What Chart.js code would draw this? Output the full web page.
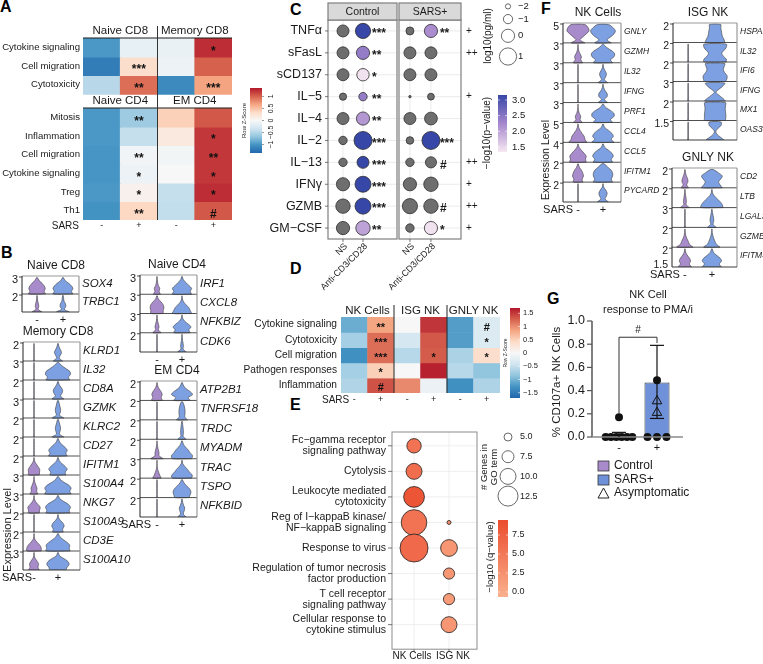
<!DOCTYPE html>
<html>
<head>
<meta charset="utf-8">
<title>T and NK cell responses</title>
<script src="https://cdn.jsdelivr.net/npm/chart.js@4.4.1/dist/chart.umd.min.js"></script>
<style>
  html, body { margin: 0; padding: 0; background: #fff; }
  #fig { position: relative; width: 763px; height: 664px; overflow: hidden; background: #fff; }
  #fig canvas { position: absolute; left: 0; top: 0; }
  .tag { position: absolute; font: bold 16px "Liberation Sans", Arial, sans-serif; line-height: 16px; color: #000; }
</style>
</head>
<body>
<div id="fig">
  <div class="tag" style="left:0px;top:-1px">A</div>
  <div class="tag" style="left:1px;top:245px">B</div>
  <div class="tag" style="left:290px;top:2px">C</div>
  <div class="tag" style="left:290px;top:261px">D</div>
  <div class="tag" style="left:290px;top:397px">E</div>
  <div class="tag" style="left:541px;top:1px">F</div>
  <div class="tag" style="left:547px;top:291px">G</div>
</div>
<script>
// ---------------- Panel A: pathway z-scores (T cell subsets) ----------------
const aColLabels = ['-', '+', '-', '+'];
const aTopGroups = ['Naive CD8', 'Memory CD8'];
const aBotGroups = ['Naive CD4', 'EM CD4'];
const aTopRows = ['Cytokine signaling', 'Cell migration', 'Cytotoxicity'];
const aTopZ = [
  [-0.98, -0.14, -0.12, 1.25],
  [-1.18, 0.3, -0.1, 1.01],
  [-0.47, 0.95, -1.08, 0.68]
];
const aTopSig = [['', '', '', '*'], ['', '***', '', ''], ['', '**', '', '***']];
const aBotRows = ['Mitosis', 'Inflammation', 'Cell migration', 'Cytokine signaling', 'Treg', 'Th1'];
const aBotZ = [
  [-0.98, -0.61, 0.4, 1.05],
  [-0.98, -0.4, 0.17, 1.2],
  [-1.0, -0.05, -0.04, 1.2],
  [-1.0, -0.1, 0.0, 1.2],
  [-0.98, 0.08, -0.4, 1.25],
  [-1.02, 0.35, -0.42, 1.05]
];
const aBotSig = [['', '**', '', ''], ['', '', '', '*'], ['', '**', '', '**'], ['', '*', '', '*'], ['', '*', '', '*'], ['', '**', '', '#']];
const aKeyTicks = [1, 0.5, 0, -0.5, -1];

// ---------------- Panel B: violin profiles (bottom -> top), - and + ----------------
const LN = [0.03, 0.02, 0.02, 0.02, 0.02, 0.02, 0.01];
const bNaive8Genes = ['SOX4', 'TRBC1'];
const bNaive8Ticks = ['3', '2'];
const bNaive8Neg = [[0.6, 0.5, 0.58, 0.5, 0.35, 0.15, 0.02], [0.35, 0.08, 0.12, 0.1, 0.05, 0.03, 0.01]];
const bNaive8Pos = [[0.7, 0.6, 0.7, 0.6, 0.4, 0.15, 0.02], [0.45, 0.1, 0.2, 0.18, 0.08, 0.05, 0.02]];

const bMem8Genes = ['KLRD1', 'IL32', 'CD8A', 'GZMK', 'KLRC2', 'CD27', 'IFITM1', 'S100A4', 'NKG7', 'S100A9', 'CD3E', 'S100A10'];
const bMem8Ticks = ['2', '3', '2', '3', '2', '2', '2', '3', '3', '2', '2', '3'];
const bMem8Neg = [LN, LN, LN, LN, LN, LN,
  [0.4, 0.42, 0.43, 0.3, 0.15, 0.04, 0.01],
  [0.3, 0.2, 0.23, 0.15, 0.07, 0.02, 0.01],
  [0.4, 0.42, 0.47, 0.3, 0.12, 0.03, 0.01],
  LN,
  [0.55, 0.55, 0.45, 0.25, 0.08, 0.02, 0.01],
  [0.4, 0.3, 0.35, 0.25, 0.1, 0.02, 0.01]];
const bMem8Pos = [
  [0.35, 0.1, 0.18, 0.27, 0.18, 0.08, 0.02],
  [0.9, 0.8, 0.95, 0.9, 0.6, 0.3, 0.05],
  [0.45, 0.2, 0.3, 0.36, 0.25, 0.1, 0.02],
  [0.45, 0.12, 0.18, 0.2, 0.15, 0.1, 0.03],
  [0.45, 0.12, 0.16, 0.2, 0.16, 0.1, 0.03],
  [0.7, 0.6, 0.7, 0.55, 0.3, 0.12, 0.02],
  [0.6, 0.55, 0.7, 0.55, 0.3, 0.1, 0.02],
  [1.0, 0.9, 1.0, 0.85, 0.5, 0.2, 0.03],
  [0.9, 0.85, 0.95, 0.8, 0.45, 0.15, 0.02],
  [0.4, 0.35, 0.47, 0.4, 0.2, 0.05, 0.01],
  [0.92, 0.85, 0.9, 0.7, 0.4, 0.15, 0.02],
  [0.6, 0.7, 0.85, 0.75, 0.45, 0.12, 0.02]];

const bNaive4Genes = ['IRF1', 'CXCL8', 'NFKBIZ', 'CDK6'];
const bNaive4Ticks = ['3', '3', '3', '2'];
const bNaive4Neg = [
  [0.25, 0.15, 0.2, 0.1, 0.05, 0.02, 0.01],
  [0.45, 0.45, 0.5, 0.45, 0.3, 0.1, 0.02],
  [0.3, 0.1, 0.15, 0.1, 0.05, 0.02, 0.01],
  LN];
const bNaive4Pos = [
  [0.7, 0.6, 0.7, 0.5, 0.3, 0.1, 0.02],
  [0.7, 0.6, 0.5, 0.3, 0.12, 0.03, 0.01],
  [0.6, 0.5, 0.65, 0.45, 0.2, 0.05, 0.01],
  [0.3, 0.08, 0.1, 0.08, 0.04, 0.02, 0.01]];

const bEm4Genes = ['ATP2B1', 'TNFRSF18', 'TRDC', 'MYADM', 'TRAC', 'TSPO', 'NFKBID'];
const bEm4Ticks = ['2', '2', '2', '2', '3', '2', '2'];
const bEm4Neg = [
  [0.4, 0.3, 0.38, 0.3, 0.15, 0.05, 0.01],
  LN, LN,
  [0.45, 0.15, 0.15, 0.1, 0.05, 0.02, 0.01],
  [0.3, 0.2, 0.12, 0.05, 0.02, 0.01, 0.01],
  LN, LN];
const bEm4Pos = [
  [0.6, 0.45, 0.77, 0.6, 0.3, 0.12, 0.02],
  [0.4, 0.2, 0.22, 0.22, 0.2, 0.15, 0.05],
  [0.3, 0.08, 0.1, 0.1, 0.08, 0.05, 0.02],
  [0.7, 0.77, 0.6, 0.45, 0.25, 0.1, 0.02],
  [0.7, 0.75, 0.55, 0.4, 0.2, 0.05, 0.01],
  [0.5, 0.6, 0.65, 0.55, 0.35, 0.15, 0.03],
  [0.3, 0.1, 0.15, 0.2, 0.12, 0.05, 0.02]];

// ---------------- Panel C: cytokine dot plot ----------------
const cCytokines = ['TNFα', 'sFasL', 'sCD137', 'IL−5', 'IL−4', 'IL−2', 'IL−13', 'IFNγ', 'GZMB', 'GM−CSF'];
const cConditions = ['NS', 'Anti-CD3/CD28'];
const cFacets = ['Control', 'SARS+'];
// log10(pg/ml)
const cCtrlNS = [-0.3, -0.3, -0.3, -1.5, -0.3, -1.2, -1.2, 0.0, 0.3, 0.0];
const cCtrlStim = [0.5, 0.0, -0.2, -1.2, 0.0, 1.2, -0.3, 0.7, 0.7, 0.3];
const cSarsNS = [-1.3, -0.3, -0.3, -2.8, -0.3, -1.4, -1.2, 0.0, 0.5, -1.2];
const cSarsStim = [0.0, -0.3, -0.3, -1.6, -0.1, 1.2, -0.5, 0.3, 0.3, 0.0];
// -log10(p-value), null = not significant (grey)
const cCtrlP = [3.2, 2.4, 1.4, 2.4, 2.1, 3.2, 3.2, 3.2, 3.2, 2.0];
const cSarsP = [2.2, null, null, null, null, 3.2, null, null, null, 1.4];
const cCtrlSig = ['***', '**', '*', '**', '**', '***', '***', '***', '***', '**'];
const cSarsSig = ['**', '', '', '', '', '***', '#', '', '#', '*'];
const cGroupDiff = ['+', '++', '', '+', '', '', '++', '+', '++', '+'];
const cSizeKey = [-2, -1, 0, 1];
const cColorKey = [3.0, 2.5, 2.0, 1.5];

// ---------------- Panel D: NK pathway z-scores ----------------
const dGroups = ['NK Cells', 'ISG NK', 'GNLY NK'];
const dColLabels = ['-', '+', '-', '+', '-', '+'];
const dRows = ['Cytokine signaling', 'Cytotoxicity', 'Cell migration', 'Pathogen responses', 'Inflammation'];
const dZ = [
  [-1.06, 0.85, 0.0, 1.53, -1.19, -0.3],
  [-0.72, 1.19, -0.38, 1.32, -1.19, -0.3],
  [-1.3, 1.19, -0.6, 1.3, -0.68, 0.38],
  [-0.72, 0.51, 0.0, 1.65, -0.6, -0.85],
  [-0.64, 1.36, 1.02, -0.13, -1.3, -0.66]
];
const dSig = [['', '**', '', '', '', '#'], ['', '***', '', '', '', '*'], ['', '***', '', '*', '', '*'], ['', '*', '', '', '', ''], ['', '#', '', '', '', '']];
const dKeyTicks = [1.5, 1, 0.5, 0, -0.5, -1, -1.5];

// ---------------- Panel E: GO enrichment ----------------
const eClusters = ['NK Cells', 'ISG NK'];
const eTerms = [
  ['Fc−gamma receptor', 'signaling pathway'],
  ['Cytolysis'],
  ['Leukocyte mediated', 'cytotoxicity'],
  ['Reg of I−kappaB kinase/', 'NF−kappaB signaling'],
  ['Response to virus'],
  ['Regulation of tumor necrosis', 'factor production'],
  ['T cell receptor', 'signaling pathway'],
  ['Cellular response to', 'cytokine stimulus']
];
const eNkGenes = [9, 10, 13, 16, 17.5, null, null, null];
const eNkQ = [5.5, 6.0, 8.5, 5.5, 6.5, null, null, null];
const eIsgGenes = [null, null, null, 2.5, 10.5, 7, 7, 10];
const eIsgQ = [null, null, null, 3.0, 2.0, 2.0, 1.5, 2.0];
const eSizeKey = [5.0, 7.5, 10.0, 12.5];
const eColorKey = [7.5, 5.0, 2.5, 0.0];

// ---------------- Panel F: NK violin profiles ----------------
const fNkGenes = ['GNLY', 'GZMH', 'IL32', 'IFNG', 'PRF1', 'CCL4', 'CCL5', 'IFITM1', 'PYCARD'];
const fNkTicks = ['5', '3', '3', '3', '3', '5', '4', '2', '2'];
const fNkNeg = [
  [0.5, 0.15, 0.35, 0.6, 0.8, 0.75, 0.5],
  [0.35, 0.2, 0.25, 0.15, 0.06, 0.02, 0.01],
  LN, LN,
  [0.3, 0.15, 0.2, 0.1, 0.04, 0.01, 0.01],
  [0.65, 0.5, 0.45, 0.3, 0.15, 0.05, 0.01],
  [0.6, 0.55, 0.6, 0.45, 0.25, 0.08, 0.01],
  [0.35, 0.3, 0.4, 0.35, 0.25, 0.1, 0.02],
  LN];
const fNkPos = [
  [0.6, 0.3, 0.55, 0.8, 0.9, 0.75, 0.4],
  [0.7, 0.55, 0.8, 0.85, 0.65, 0.3, 0.05],
  [0.35, 0.1, 0.2, 0.25, 0.15, 0.05, 0.01],
  [0.35, 0.1, 0.3, 0.3, 0.15, 0.05, 0.01],
  [0.7, 0.55, 0.8, 0.8, 0.55, 0.2, 0.03],
  [0.8, 0.6, 0.75, 0.65, 0.4, 0.12, 0.02],
  [0.7, 0.6, 0.75, 0.65, 0.4, 0.12, 0.02],
  [0.7, 0.6, 0.7, 0.7, 0.6, 0.35, 0.08],
  [0.4, 0.15, 0.25, 0.3, 0.2, 0.05, 0.01]];
const fIsgGenes = ['HSPA1B', 'IL32', 'IFI6', 'IFNG', 'MX1', 'OAS3'];
const fIsgTicks = ['2', '2', '2', '3', '2', '1.5'];
const fIsgNeg = [null, LN, LN, LN, LN, LN];
const fIsgPos = [
  [0.65, 0.6, 0.5, 0.45, 0.42, 0.38, 0.38],
  [0.75, 0.75, 0.55, 0.45, 0.6, 0.75, 0.75],
  [0.7, 0.8, 0.8, 0.65, 0.55, 0.6, 0.65],
  [0.7, 0.5, 0.25, 0.05, 0.25, 0.5, 0.65],
  [0.7, 0.72, 0.72, 0.7, 0.68, 0.7, 0.7],
  [0.6, 0.35, 0.12, 0.05, 0.2, 0.4, 0.4]];
const fGnlyGenes = ['CD2', 'LTB', 'LGALS1', 'GZMB', 'IFITM3'];
const fGnlyTicks = ['2', '2', '3', '2', '2'];
const fGnlyNeg = [
  [0.25, 0.12, 0.2, 0.18, 0.1, 0.04, 0.01],
  [0.3, 0.08, 0.1, 0.08, 0.05, 0.02, 0.01],
  LN,
  [0.55, 0.3, 0.22, 0.12, 0.05, 0.02, 0.01],
  [0.45, 0.3, 0.38, 0.3, 0.15, 0.05, 0.01]];
const fGnlyPos = [
  [0.7, 0.55, 0.45, 0.6, 0.7, 0.45, 0.1],
  [0.75, 0.7, 0.55, 0.35, 0.15, 0.04, 0.01],
  [0.3, 0.08, 0.12, 0.12, 0.08, 0.04, 0.01],
  [0.55, 0.3, 0.2, 0.12, 0.06, 0.02, 0.01],
  [0.65, 0.5, 0.65, 0.55, 0.3, 0.1, 0.02]];

// ---------------- Panel G: CD107a bar chart ----------------
const gGroups = ['-', '+'];
const gMeans = [0.02, 0.47];
const gErrLow = [0.0, 0.16];
const gErrHigh = [0.04, 0.79];
const gCtrlPoints = [0, 0, 0, 0, 0, 0, 0.17];
const gSarsPoints = [0, 0, 0, 0.49];
const gAsymPoints = [0.31, 0.21];
const gYTicks = [0, 0.2, 0.4, 0.6, 0.8, 1.0];
const gLegend = ['Control', 'SARS+', 'Asymptomatic'];

// ================= helpers =================
const FW = 763, FH = 664;
const FONT = '"Liberation Sans", Arial, sans-serif';
const PURPLE = '#A88BCB';
const BLUE = '#7DA0E2';
const G_BLUE = '#6E91D9';
const RDBU = ['#2166AC', '#4393C3', '#92C5DE', '#D1E5F0', '#F7F7F7', '#FDDBC7', '#F4A582', '#D6604D', '#B2182B'];
const PVAL_RAMP = ['#F6E8F1', '#A687CD', '#3747A8'];
const QVAL_RAMP = ['#FAB08C', '#EB4C2E'];
const A_ZMAX = 1.35, A_BOT_START = 3.75, A_YMAX = 9.75;
const D_ZMAX = 1.7;
const P_MIN = 1.34, P_MAX = 3.16;
const Q_MIN = -0.66, Q_MAX = 9.47;
const V_LEVELS = [0, 0.15, 0.3, 0.45, 0.6, 0.75, 0.92];
const V_HALF = 0.55;

Chart.defaults.font.family = FONT;

function hexToRgb(h) {
  const n = parseInt(h.slice(1), 16);
  return [n >> 16, (n >> 8) & 255, n & 255];
}
function ramp(stops, t) {
  t = Math.max(0, Math.min(1, t));
  const p = t * (stops.length - 1);
  const i = Math.min(Math.floor(p), stops.length - 2), f = p - i;
  const a = hexToRgb(stops[i]), b = hexToRgb(stops[i + 1]);
  return 'rgb(' + a.map((v, k) => Math.round(v + (b[k] - v) * f)).join(',') + ')';
}
function fmt(v) { return (v < 0 ? '−' : '') + Math.abs(v); }

function text(ctx, s, x, y, o) {
  o = o || {};
  ctx.save();
  ctx.font = (o.italic ? 'italic ' : '') + (o.bold ? 'bold ' : '') + (o.size || 10) + 'px ' + FONT;
  ctx.fillStyle = o.color || '#1a1a1a';
  ctx.textAlign = o.align || 'left';
  ctx.textBaseline = o.base || 'middle';
  ctx.translate(x, y);
  if (o.rot) ctx.rotate(o.rot);
  ctx.fillText(s, 0, 0);
  ctx.restore();
}
function line(ctx, x1, y1, x2, y2, color, w) {
  ctx.save();
  ctx.strokeStyle = color || '#000';
  ctx.lineWidth = w || 1;
  ctx.beginPath();
  ctx.moveTo(x1, y1);
  ctx.lineTo(x2, y2);
  ctx.stroke();
  ctx.restore();
}
function frame(ctx, ca, color, w) {
  ctx.save();
  ctx.strokeStyle = color;
  ctx.lineWidth = w;
  ctx.strokeRect(ca.left, ca.top, ca.right - ca.left, ca.bottom - ca.top);
  ctx.restore();
}
function circle(ctx, x, y, r, fill, stroke) {
  ctx.save();
  ctx.beginPath();
  ctx.arc(x, y, r, 0, Math.PI * 2);
  ctx.fillStyle = fill;
  ctx.fill();
  ctx.strokeStyle = stroke;
  ctx.lineWidth = 0.8;
  ctx.stroke();
  ctx.restore();
}
function colorbar(ctx, x0, y0, x1, y1, stops) {
  const g = ctx.createLinearGradient(0, y1, 0, y0);
  stops.forEach((c, i) => g.addColorStop(i / (stops.length - 1), c));
  ctx.save();
  ctx.fillStyle = g;
  ctx.fillRect(x0, y0, x1 - x0, y1 - y0);
  ctx.restore();
}

function newCanvas() {
  const c = document.createElement('canvas');
  c.width = FW;
  c.height = FH;
  c.style.width = FW + 'px';
  c.style.height = FH + 'px';
  document.getElementById('fig').appendChild(c);
  return c;
}

// every chart gets a full-figure canvas; the padding puts its plot area on the given box
function chartAt(box, config) {
  const [x0, y0, x1, y1] = box;
  const opts = config.options || {};
  opts.responsive = false;
  opts.animation = false;
  opts.devicePixelRatio = 1;
  opts.events = [];
  opts.layout = { padding: { left: x0, top: y0, right: FW - x1, bottom: FH - y1 } };
  opts.plugins = Object.assign({ legend: { display: false }, tooltip: { enabled: false } }, opts.plugins || {});
  config.options = opts;
  return new Chart(newCanvas(), config);
}

// ================= heatmaps (A, D) =================
function heatmapChart(box, nCols, blocks, zMax, yMax, decorate) {
  const datasets = [];
  blocks.forEach(b => b.z.forEach((vals, i) => {
    const y0 = b.start + i;
    datasets.push({
      data: vals.map(() => [y0, y0 + 1.04]),
      backgroundColor: vals.map(v => ramp(RDBU, (v + zMax) / (2 * zMax))),
      borderWidth: 0,
      grouped: false,
      barPercentage: 1.02,
      categoryPercentage: 1
    });
  }));
  return chartAt(box, {
    type: 'bar',
    data: { labels: Array.from({ length: nCols }, (_, j) => 'c' + j), datasets },
    options: {
      scales: {
        x: { display: false },
        y: { type: 'linear', min: 0, max: yMax, reverse: true, display: false }
      }
    },
    plugins: [{ id: 'heatDecor', afterDatasetsDraw: decorate }]
  });
}

heatmapChart([83, 38, 232, 220], 4,
  [{ z: aTopZ, start: 0 }, { z: aBotZ, start: A_BOT_START }], A_ZMAX, A_YMAX,
  function (chart) {
    const { ctx, chartArea: ca, scales: { x, y } } = chart;
    const cx = j => x.getPixelForValue(j);
    [[aTopRows, aTopSig, aTopGroups, 0], [aBotRows, aBotSig, aBotGroups, A_BOT_START]].forEach(([rows, sig, groups, start]) => {
      const top = y.getPixelForValue(start);
      groups.forEach((g, k) => text(ctx, g, (cx(2 * k) + cx(2 * k + 1)) / 2, top - 7, { size: 11.5, align: 'center' }));
      line(ctx, ca.left, top, ca.right, top, '#1e1e1e', 1.2);
      rows.forEach((r, i) => {
        const cy = y.getPixelForValue(start + i + 0.5);
        text(ctx, r, ca.left - 3, cy, { size: 9.6, align: 'right' });
        sig[i].forEach((s, j) => { if (s) text(ctx, s, cx(j), cy + 4, { size: 12, bold: true, align: 'center', color: '#111' }); });
      });
    });
    const midX = (cx(1) + cx(2)) / 2;
    line(ctx, midX, ca.top - 12, midX, ca.bottom, '#333', 1);
    text(ctx, 'SARS', ca.left - 4, ca.bottom + 6, { size: 10, align: 'right' });
    aColLabels.forEach((l, j) => text(ctx, l, cx(j), ca.bottom + 6, { size: 9, align: 'center' }));
    // colour key
    const k0 = 88, k1 = 153;
    colorbar(ctx, 250, k0, 262, k1, RDBU);
    aKeyTicks.forEach(v => {
      const yy = k0 + (A_ZMAX - v) / (2 * A_ZMAX) * (k1 - k0);
      line(ctx, 262, yy, 264, yy, '#555', 0.6);
      text(ctx, fmt(v), 271, yy, { size: 7, align: 'center', rot: -Math.PI / 2 });
    });
    text(ctx, 'Row Z-Score', 244, (k0 + k1) / 2, { size: 6, align: 'center', rot: -Math.PI / 2 });
  });

heatmapChart([341, 317, 500, 393], 6, [{ z: dZ, start: 0 }], D_ZMAX, dRows.length,
  function (chart) {
    const { ctx, chartArea: ca, scales: { x, y } } = chart;
    const cx = j => x.getPixelForValue(j);
    dGroups.forEach((g, k) => text(ctx, g, (cx(2 * k) + cx(2 * k + 1)) / 2, ca.top - 6, { size: 11.5, align: 'center' }));
    [1, 2].forEach(k => {
      const xx = (cx(2 * k - 1) + cx(2 * k)) / 2;
      line(ctx, xx, ca.top - 12, xx, ca.bottom, '#222', 1);
    });
    dRows.forEach((r, i) => {
      const cy = y.getPixelForValue(i + 0.5);
      text(ctx, r, ca.left - 4, cy, { size: 10.2, align: 'right' });
      dSig[i].forEach((s, j) => { if (s) text(ctx, s, cx(j), cy + 3, { size: 11, bold: true, align: 'center', color: '#111' }); });
    });
    text(ctx, 'SARS', cx(0) - 5, ca.bottom + 7, { size: 10, align: 'right' });
    dColLabels.forEach((l, j) => text(ctx, l, cx(j), ca.bottom + 7, { size: 9, align: 'center' }));
    const k0 = 308, k1 = 398;
    colorbar(ctx, 510, k0, 520, k1, RDBU);
    dKeyTicks.forEach(v => {
      const yy = k0 + (D_ZMAX - v) / (2 * D_ZMAX) * (k1 - k0);
      line(ctx, 518, yy, 520, yy, '#fff', 0.6);
      text(ctx, fmt(v), 523, yy, { size: 7.5 });
    });
    text(ctx, 'Row Z-Score', 506, (k0 + k1) / 2, { size: 5, align: 'center', rot: -Math.PI / 2 });
  });

// ================= violin stacks (B, F) =================
function violinOutline(profile, center, base) {
  const right = profile.map((w, k) => ({ x: center + w * V_HALF, y: base + V_LEVELS[k] }));
  const left = profile.map((w, k) => ({ x: center - w * V_HALF, y: base + V_LEVELS[k] })).reverse();
  return right.concat(left, [right[0]]);
}

function violinChart(o) {
  const n = o.genes.length;
  const datasets = [];
  o.genes.forEach((g, i) => {
    const base = n - 1 - i;
    [[o.neg[i], 1, PURPLE], [o.pos[i], 2, BLUE]].forEach(([prof, cx, col]) => {
      if (!prof) return;
      datasets.push({
        data: violinOutline(prof, cx, base),
        showLine: true, fill: 'shape', tension: 0.3,
        backgroundColor: col, borderColor: '#3d3d3d', borderWidth: 0.6,
        pointRadius: 0
      });
    });
  });
  return chartAt(o.box, {
    type: 'scatter',
    data: { datasets },
    options: {
      scales: {
        x: { type: 'linear', min: o.xMin, max: o.xMax, offset: false, display: false },
        y: { type: 'linear', min: 0, max: n, offset: false, display: false }
      }
    },
    plugins: [{
      id: 'violinDecor',
      afterDatasetsDraw(chart) {
        const { ctx, chartArea: ca, scales: { x, y } } = chart;
        for (let i = 1; i < n; i++) {
          const yy = y.getPixelForValue(i);
          line(ctx, ca.left, yy, ca.right, yy, '#3c3c3c', 0.9);
        }
        line(ctx, ca.left, ca.top, ca.right, ca.top, '#9a9a9a', 1.2);
        line(ctx, ca.right, ca.top, ca.right, ca.bottom, '#9a9a9a', 1.2);
        line(ctx, ca.left, ca.bottom, ca.right, ca.bottom, '#3c3c3c', 1);
        line(ctx, ca.left, ca.top, ca.left, ca.bottom, '#222', 1);
        o.genes.forEach((g, i) => {
          const top = y.getPixelForValue(n - i), mid = y.getPixelForValue(n - i - 0.5);
          text(ctx, g, ca.right + 3, mid - 1, { italic: true, size: o.geneSize });
          text(ctx, o.ticks[i], ca.left - 4, top + 4, { size: o.tickSize || 11, align: 'right' });
          line(ctx, ca.left - 3, top + 1, ca.left, top + 1, '#222', 0.8);
        });
        if (o.bottomTick) text(ctx, o.bottomTick, ca.left - 4, ca.bottom - 2, { size: o.tickSize || 11, align: 'right' });
        if (o.title) text(ctx, o.title, o.titleX, ca.top - 10, { size: 12, align: 'center' });
        if (o.xLabels) {
          const ly = ca.bottom + 8;
          text(ctx, '-', x.getPixelForValue(1), ly, { size: 11, align: 'center' });
          text(ctx, '+', x.getPixelForValue(2), ly, { size: 11, align: 'center' });
          if (o.sars !== undefined) text(ctx, 'SARS', x.getPixelForValue(1) - o.sars, ly, { size: 11, align: 'right' });
        }
        if (o.ylab) text(ctx, 'Expression Level', o.ylab[0], o.ylab[1], { size: o.ylabSize || 11, align: 'center', rot: -Math.PI / 2 });
      }
    }]
  });
}

violinChart({ box: [22, 276, 79, 312], xMin: 0.42, xMax: 2.62, genes: bNaive8Genes, ticks: bNaive8Ticks,
  neg: bNaive8Neg, pos: bNaive8Pos, title: 'Naive CD8', titleX: 56, xLabels: true, geneSize: 11.5 });
violinChart({ box: [23, 342, 80, 570], xMin: 0.54, xMax: 2.92, genes: bMem8Genes, ticks: bMem8Ticks,
  neg: bMem8Neg, pos: bMem8Pos, title: 'Memory CD8', titleX: 58, xLabels: true, sars: 2, geneSize: 11.5, ylab: [8, 530] });
violinChart({ box: [140, 275, 197, 352], xMin: 0.32, xMax: 2.6, genes: bNaive4Genes, ticks: bNaive4Ticks,
  neg: bNaive4Neg, pos: bNaive4Pos, title: 'Naive CD4', titleX: 177, xLabels: true, geneSize: 11.5 });
violinChart({ box: [140, 381, 197, 517], xMin: 0.32, xMax: 2.6, genes: bEm4Genes, ticks: bEm4Ticks,
  neg: bEm4Neg, pos: bEm4Pos, title: 'EM CD4', titleX: 177, xLabels: true, sars: 6, geneSize: 11.5 });

violinChart({ box: [563, 23, 621, 202], xMin: 0.4, xMax: 2.72, genes: fNkGenes, ticks: fNkTicks,
  neg: fNkNeg, pos: fNkPos, title: 'NK Cells', titleX: 598, xLabels: true, sars: 5, geneSize: 8.5,
  tickSize: 10.5, ylab: [546, 160], ylabSize: 10.5 });
violinChart({ box: [673, 23, 737, 140], xMin: 0.44, xMax: 2.81, genes: fIsgGenes, ticks: fIsgTicks,
  neg: fIsgNeg, pos: fIsgPos, title: 'ISG NK', titleX: 708, geneSize: 8.5, tickSize: 10.5 });
violinChart({ box: [672, 168, 737, 267], xMin: 0.52, xMax: 2.93, genes: fGnlyGenes, ticks: fGnlyTicks,
  neg: fGnlyNeg, pos: fGnlyPos, title: 'GNLY NK', titleX: 708, xLabels: true, sars: 5, geneSize: 8.5,
  tickSize: 10.5, bottomTick: '1.5' });

// ================= C: dot plot facets =================
function cRadius(v) { return Math.max(1.2, 6.6 + 2 * v); }
function cColor(p) { return ramp(PVAL_RAMP, (p - P_MIN) / (P_MAX - P_MIN)); }

function cFacet(box, xMin, xMax, facet, ns, stim, pvals, sig, first) {
  const gray = '#6E6E6E';
  return chartAt(box, {
    type: 'bubble',
    data: {
      datasets: [
        { data: ns.map((v, i) => ({ x: 1, y: i, r: cRadius(v) })), backgroundColor: gray, borderColor: '#2e2e2e', borderWidth: 0.8 },
        { data: stim.map((v, i) => ({ x: 2, y: i, r: cRadius(v) })), backgroundColor: pvals.map(p => p == null ? gray : cColor(p)), borderColor: '#2e2e2e', borderWidth: 0.8 }
      ]
    },
    options: {
      scales: {
        x: { type: 'linear', min: xMin, max: xMax, offset: false, display: false },
        y: { type: 'linear', min: -0.5, max: cCytokines.length - 0.5, reverse: true, offset: false, display: false }
      }
    },
    plugins: [{
      id: 'cDecor',
      beforeDatasetsDraw(chart) {
        const { ctx, chartArea: ca, scales: { x, y } } = chart;
        cCytokines.forEach((c, i) => { const yy = y.getPixelForValue(i); line(ctx, ca.left, yy, ca.right, yy, '#E6E6E6', 0.8); });
        [1, 2].forEach(v => { const xx = x.getPixelForValue(v); line(ctx, xx, ca.top, xx, ca.bottom, '#E6E6E6', 0.8); });
      },
      afterDatasetsDraw(chart) {
        const { ctx, chartArea: ca, scales: { x, y } } = chart;
        frame(ctx, ca, '#7F7F7F', 1.2);
        ctx.save();
        ctx.fillStyle = '#D9D9D9';
        ctx.fillRect(ca.left, ca.top - 17, ca.right - ca.left, 17);
        ctx.strokeStyle = '#7F7F7F';
        ctx.lineWidth = 1.2;
        ctx.strokeRect(ca.left, ca.top - 17, ca.right - ca.left, 17);
        ctx.restore();
        text(ctx, facet, (ca.left + ca.right) / 2, ca.top - 8, { size: 10.5, align: 'center' });
        sig.forEach((s, i) => { if (s) text(ctx, s, x.getPixelForValue(2) + 9, y.getPixelForValue(i) + 3, { size: 12, bold: true }); });
        cConditions.forEach((c, k) => {
          const xx = x.getPixelForValue(k + 1);
          line(ctx, xx, ca.bottom, xx, ca.bottom + 3, '#555', 0.8);
          text(ctx, c, xx + 3, ca.bottom + 6, { size: 9, align: 'right', rot: -Math.PI / 4 });
        });
        if (first) {
          cCytokines.forEach((c, i) => {
            const yy = y.getPixelForValue(i);
            line(ctx, ca.left - 3, yy, ca.left, yy, '#555', 0.8);
            text(ctx, c, ca.left - 6, yy, { size: 12.5, align: 'right' });
          });
        } else {
          cGroupDiff.forEach((s, i) => { if (s) text(ctx, s, ca.right + 5, y.getPixelForValue(i), { size: 10 }); });
          // size key
          text(ctx, 'log10(pg/ml)', 488, 36, { size: 10, align: 'center', rot: -Math.PI / 2 });
          let ky = 6.4, prevR = 0;
          cSizeKey.forEach((v, k) => {
            const r = cRadius(v);
            ky = k === 0 ? ky : ky + prevR + r + 5.5;
            circle(ctx, 508, ky, r, '#fff', '#444');
            text(ctx, fmt(v), 518, ky, { size: 9.5 });
            prevR = r;
          });
          // colour key
          const k0 = 95, k1 = 152;
          colorbar(ctx, 498, k0, 507, k1, PVAL_RAMP);
          cColorKey.forEach(v => {
            const yy = k1 - (v - P_MIN) / (P_MAX - P_MIN) * (k1 - k0);
            line(ctx, 498, yy, 500, yy, '#fff', 0.6);
            line(ctx, 505, yy, 507, yy, '#fff', 0.6);
            text(ctx, v.toFixed(1), 512, yy, { size: 9.5 });
          });
          text(ctx, '−log10(p−value)', 487, 133, { size: 10, align: 'center', rot: -Math.PI / 2 });
        }
      }
    }]
  });
}

cFacet([328, 20, 397, 239], 0.25, 3.7, cFacets[0], cCtrlNS, cCtrlStim, cCtrlP, cCtrlSig, true);
cFacet([399, 20, 461, 239], 0.48, 3.43, cFacets[1], cSarsNS, cSarsStim, cSarsP, cSarsSig, false);

// ================= E: GO term bubbles =================
function eRadius(n) { return 0.8 * n; }
function eColor(q) { return ramp(QVAL_RAMP, (q - Q_MIN) / (Q_MAX - Q_MIN)); }
function ePoints(genes, qs, col) {
  const data = [], colors = [];
  genes.forEach((g, i) => {
    if (g == null) return;
    data.push({ x: col, y: i + 1, r: eRadius(g) });
    colors.push(eColor(qs[i]));
  });
  return { data, backgroundColor: colors, borderColor: '#222', borderWidth: 0.8 };
}

chartAt([392, 432, 477, 653], {
  type: 'bubble',
  data: { datasets: [ePoints(eNkGenes, eNkQ, 1), ePoints(eIsgGenes, eIsgQ, 2)] },
  options: {
    scales: {
      x: { type: 'linear', min: 0.37, max: 2.8, offset: false, display: false },
      y: { type: 'linear', min: 0.46, max: 8.96, reverse: true, offset: false, display: false }
    }
  },
  plugins: [{
    id: 'eDecor',
    beforeDatasetsDraw(chart) {
      const { ctx, chartArea: ca, scales: { x, y } } = chart;
      eTerms.forEach((t, i) => { const yy = y.getPixelForValue(i + 1); line(ctx, ca.left, yy, ca.right, yy, '#EBEBEB', 0.8); });
      eClusters.forEach((c, j) => { const xx = x.getPixelForValue(j + 1); line(ctx, xx, ca.top, xx, ca.bottom, '#EBEBEB', 0.8); });
    },
    afterDatasetsDraw(chart) {
      const { ctx, chartArea: ca, scales: { x, y } } = chart;
      frame(ctx, ca, '#8C8C8C', 1);
      eTerms.forEach((lines, i) => {
        const cy = y.getPixelForValue(i + 1);
        line(ctx, ca.left - 4, cy, ca.left, cy, '#555', 0.8);
        const off = (lines.length - 1) * 5.5;
        lines.forEach((s, k) => text(ctx, s, ca.left - 6, cy - off + k * 11, { size: 10.5, align: 'right' }));
      });
      eClusters.forEach((c, j) => {
        const xx = x.getPixelForValue(j + 1);
        line(ctx, xx, ca.bottom, xx, ca.bottom + 3, '#555', 0.8);
        text(ctx, c, xx + j * 6 - 2, ca.bottom + 7, { size: 10, align: 'center' });
      });
      // size key
      text(ctx, '# Genes in', 484, 467, { size: 9.5, align: 'center', rot: -Math.PI / 2 });
      text(ctx, 'GO term', 494, 467, { size: 9.5, align: 'center', rot: -Math.PI / 2 });
      eSizeKey.forEach((v, k) => {
        const yy = 437 + k * 19.7;
        circle(ctx, 508, yy, eRadius(v), '#fff', '#444');
        text(ctx, v.toFixed(1), 520, yy, { size: 9 });
      });
      // colour key
      const k0 = 520, k1 = 597;
      colorbar(ctx, 498, k0, 508, k1, QVAL_RAMP);
      eColorKey.forEach(v => {
        const yy = k1 - (v - Q_MIN) / (Q_MAX - Q_MIN) * (k1 - k0);
        line(ctx, 498, yy, 500, yy, '#fff', 0.6);
        line(ctx, 506, yy, 508, yy, '#fff', 0.6);
        text(ctx, v.toFixed(1), 512, yy, { size: 9 });
      });
      text(ctx, '−log10 (q−value)', 490, 557, { size: 9.5, align: 'center', rot: -Math.PI / 2 });
    }
  }]
});

// ================= G: bar + dots =================
function swarm(vals, group) {
  const counts = {}, seen = {};
  vals.forEach(v => { counts[v] = (counts[v] || 0) + 1; });
  return vals.map(v => {
    const m = counts[v];
    const k = seen[v] = (seen[v] === undefined ? 0 : seen[v] + 1);
    const step = m > 1 ? Math.min(0.25, 0.7 / (m - 1)) : 0;
    return { x: group + (k - (m - 1) / 2) * step, y: v };
  });
}

chartAt([600, 321, 676, 437], {
  type: 'scatter',
  data: {
    datasets: [
      { data: swarm(gCtrlPoints, 0).concat(swarm(gSarsPoints, 1)),
        pointRadius: 4, backgroundColor: '#111', borderColor: '#111', borderWidth: 0, clip: false, order: 1 },
      { data: gAsymPoints.map(v => ({ x: 1, y: v })),
        pointStyle: 'triangle', pointRadius: 5.5, backgroundColor: 'rgba(0,0,0,0)', borderColor: '#111', borderWidth: 1, clip: false, order: 0 },
      { type: 'bar', data: gMeans.map((m, j) => ({ x: j, y: m })), backgroundColor: [PURPLE, G_BLUE], borderColor: '#333', borderWidth: 1,
        grouped: false, barPercentage: 0.66, categoryPercentage: 1, order: 2 }
    ]
  },
  options: {
    scales: {
      x: { type: 'linear', min: -0.5, max: 1.5, offset: false, display: false },
      y: { type: 'linear', min: 0, max: 1, offset: false, display: false }
    }
  },
  plugins: [{
    id: 'gDecor',
    afterDatasetsDraw(chart) {
      const { ctx, chartArea: ca, scales: { x, y } } = chart;
      const ax = ca.left - 8;
      const y0 = y.getPixelForValue(0);
      line(ctx, ax, y.getPixelForValue(1), ax, y0, '#555', 1.5);
      line(ctx, ax, y0, ca.right + 7, y0, '#8a8a8a', 1.5);
      gYTicks.forEach(v => {
        const yy = y.getPixelForValue(v);
        line(ctx, ax - 5, yy, ax, yy, '#555', 1.2);
        text(ctx, v.toFixed(1), ax - 7, yy, { size: 12.5, align: 'right' });
      });
      gGroups.forEach((g, j) => text(ctx, g, x.getPixelForValue(j), ca.bottom + 11, { size: 11, align: 'center' }));
      gMeans.forEach((m, j) => {
        const xx = x.getPixelForValue(j);
        const lo = y.getPixelForValue(gErrLow[j]), hi = y.getPixelForValue(gErrHigh[j]);
        line(ctx, xx, lo, xx, hi, '#111', 1.2);
        line(ctx, xx - 7, hi, xx + 7, hi, '#111', 1.2);
        if (gErrLow[j] > 0) line(ctx, xx - 7, lo, xx + 7, lo, '#111', 1.2);
      });
      // significance bracket
      const bx0 = x.getPixelForValue(0), bx1 = x.getPixelForValue(1), by = y.getPixelForValue(0.86);
      line(ctx, bx0, y.getPixelForValue(0.2), bx0, by, '#333', 1);
      line(ctx, bx0, by, bx1, by, '#333', 1);
      line(ctx, bx1, by, bx1, y.getPixelForValue(0.81), '#333', 1);
      text(ctx, '#', (bx0 + bx1) / 2, by - 7, { size: 10, align: 'center' });
      // titles
      text(ctx, 'NK Cell', 648, 295, { size: 11, align: 'center' });
      text(ctx, 'response to PMA/i', 648, 310, { size: 11, align: 'center' });
      text(ctx, '% CD107a+ NK Cells', 557, 382, { size: 11.5, align: 'center', rot: -Math.PI / 2 });
      // legend
      [PURPLE, G_BLUE].forEach((c, k) => {
        const yy = 466 + k * 14;
        ctx.save();
        ctx.fillStyle = c;
        ctx.fillRect(598, yy - 5, 11, 10);
        ctx.strokeStyle = '#333';
        ctx.lineWidth = 0.8;
        ctx.strokeRect(598, yy - 5, 11, 10);
        ctx.restore();
        text(ctx, gLegend[k], 614, yy, { size: 12 });
      });
      ctx.save();
      ctx.beginPath();
      ctx.moveTo(603.5, 488);
      ctx.lineTo(609, 498);
      ctx.lineTo(598, 498);
      ctx.closePath();
      ctx.strokeStyle = '#222';
      ctx.lineWidth = 1;
      ctx.stroke();
      ctx.restore();
      text(ctx, gLegend[2], 614, 493, { size: 12 });
    }
  }]
});
</script>
</body>
</html>
